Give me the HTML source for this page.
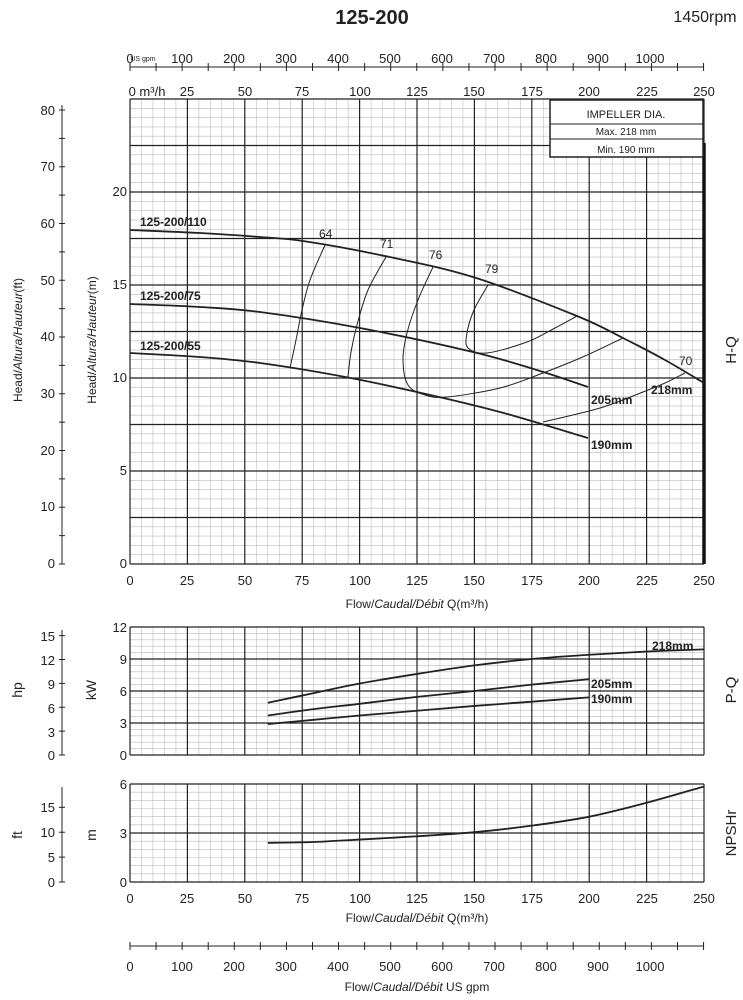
<!DOCTYPE html>
<html><head><meta charset="utf-8"><style>
body{margin:0;background:#fff}
svg{display:block;font-family:"Liberation Sans",sans-serif}
text{fill:#222}
</style></head><body>
<svg id="s" width="743" height="1000" viewBox="0 0 743 1000" xmlns="http://www.w3.org/2000/svg">
<g id="grid"></g>
<g id="curves" fill="none" stroke="#222"></g>
<!-- title -->
<text x="372" y="24" font-size="20" font-weight="bold" text-anchor="middle">125-200</text>
<text x="705" y="22" font-size="16" text-anchor="middle">1450rpm</text>
<!-- top labels -->
<g font-size="13" text-anchor="middle">
<text x="130" y="63">0</text><text x="143" y="61" font-size="7">US gpm</text>
<text x="182" y="63">100</text><text x="234" y="63">200</text><text x="286" y="63">300</text><text x="338" y="63">400</text><text x="390" y="63">500</text><text x="442" y="63">600</text><text x="494" y="63">700</text><text x="546" y="63">800</text><text x="598" y="63">900</text><text x="650" y="63">1000</text>
<text x="147" y="96">0 m³/h</text><text x="187" y="96">25</text><text x="245" y="96">50</text><text x="302" y="96">75</text><text x="360" y="96">100</text><text x="417" y="96">125</text><text x="474" y="96">150</text><text x="532" y="96">175</text><text x="589" y="96">200</text><text x="647" y="96">225</text><text x="704" y="96">250</text>
</g>
<!-- impeller box -->
<rect x="550" y="100" width="153" height="57" fill="#fff" stroke="#222" stroke-width="1.5"/>
<line x1="550" y1="124" x2="703" y2="124" stroke="#222"/><line x1="550" y1="139" x2="703" y2="139" stroke="#222"/>
<text x="626" y="118" font-size="11" text-anchor="middle">IMPELLER DIA.</text>
<text x="626" y="135" font-size="10" text-anchor="middle">Max.  218  mm</text>
<text x="626" y="153" font-size="10" text-anchor="middle">Min.   190  mm</text>
<!-- H chart left labels -->
<g font-size="13" text-anchor="end">
<text x="55" y="115">80</text><text x="55" y="171">70</text><text x="55" y="228">60</text><text x="55" y="285">50</text><text x="55" y="341">40</text><text x="55" y="398">30</text><text x="55" y="455">20</text><text x="55" y="511">10</text><text x="55" y="568">0</text>
<text x="127" y="196">20</text><text x="127" y="289">15</text><text x="127" y="382">10</text><text x="127" y="475">5</text><text x="127" y="568">0</text>
<text x="55" y="641">15</text><text x="55" y="665">12</text><text x="55" y="689">9</text><text x="55" y="713">6</text><text x="55" y="737">3</text><text x="55" y="760">0</text>
<text x="127" y="632">12</text><text x="127" y="664">9</text><text x="127" y="696">6</text><text x="127" y="728">3</text><text x="127" y="760">0</text>
<text x="55" y="812">15</text><text x="55" y="837">10</text><text x="55" y="862">5</text><text x="55" y="887">0</text>
<text x="127" y="789">6</text><text x="127" y="838">3</text><text x="127" y="887">0</text>
</g>
<g font-size="12" text-anchor="middle">
<text transform="translate(22,340) rotate(-90)">Head/<tspan font-style="italic">Altura/Hauteur</tspan>(ft)</text>
<text transform="translate(96,340) rotate(-90)">Head/<tspan font-style="italic">Altura/Hauteur</tspan>(m)</text>
<text transform="translate(22,690) rotate(-90)" font-size="14">hp</text>
<text transform="translate(96,690) rotate(-90)" font-size="14">kW</text>
<text transform="translate(22,835) rotate(-90)" font-size="14">ft</text>
<text transform="translate(96,835) rotate(-90)" font-size="14">m</text>
<text transform="translate(736,350) rotate(-90)" font-size="15">H-Q</text>
<text transform="translate(736,690) rotate(-90)" font-size="15">P-Q</text>
<text transform="translate(736,833) rotate(-90)" font-size="15">NPSHr</text>
</g>
<!-- bottom labels -->
<g font-size="13" text-anchor="middle">
<g id="xl1"><text x="130" y="585">0</text><text x="187" y="585">25</text><text x="245" y="585">50</text><text x="302" y="585">75</text><text x="360" y="585">100</text><text x="417" y="585">125</text><text x="474" y="585">150</text><text x="532" y="585">175</text><text x="589" y="585">200</text><text x="647" y="585">225</text><text x="704" y="585">250</text></g>
<text x="130" y="903">0</text><text x="187" y="903">25</text><text x="245" y="903">50</text><text x="302" y="903">75</text><text x="360" y="903">100</text><text x="417" y="903">125</text><text x="474" y="903">150</text><text x="532" y="903">175</text><text x="589" y="903">200</text><text x="647" y="903">225</text><text x="704" y="903">250</text>
<text x="130" y="971">0</text><text x="182" y="971">100</text><text x="234" y="971">200</text><text x="286" y="971">300</text><text x="338" y="971">400</text><text x="390" y="971">500</text><text x="442" y="971">600</text><text x="494" y="971">700</text><text x="546" y="971">800</text><text x="598" y="971">900</text><text x="650" y="971">1000</text>
<text x="417" y="608" font-size="12">Flow/<tspan font-style="italic">Caudal/Débit</tspan> Q(m³/h)</text>
<text x="417" y="922" font-size="12">Flow/<tspan font-style="italic">Caudal/Débit</tspan> Q(m³/h)</text>
<text x="417" y="991" font-size="12">Flow/<tspan font-style="italic">Caudal/Débit</tspan>  US gpm</text>
</g>
<!-- curve labels -->
<g font-size="12" font-weight="bold">
<text x="140" y="226">125-200/110</text><text x="140" y="300">125-200/75</text><text x="140" y="350">125-200/55</text>
<text x="591" y="404">205mm</text><text x="651" y="394">218mm</text><text x="591" y="449">190mm</text>
<text x="652" y="650">218mm</text><text x="591" y="688">205mm</text><text x="591" y="703">190mm</text>
</g>
<g font-size="12">
<text x="319" y="238">64</text><text x="380" y="248">71</text><text x="429" y="259">76</text><text x="485" y="273">79</text><text x="679" y="365">70</text>
</g>
</svg>
<script>
const NS="http://www.w3.org/2000/svg",g=document.getElementById('grid'),c=document.getElementById('curves');
function L(p,x1,y1,x2,y2,col,w){const e=document.createElementNS(NS,'line');e.setAttribute('x1',x1);e.setAttribute('y1',y1);e.setAttribute('x2',x2);e.setAttribute('y2',y2);e.setAttribute('stroke',col);e.setAttribute('stroke-width',w);p.appendChild(e);}
const X=q=>130+q*574/250;
function grid(top,bot,nMinorRows,majorEvery){
 for(let i=0;i<=50;i++){if(i%5)L(g,X(i*5),top,X(i*5),bot,'#bbb',0.6);}
 const h=(bot-top)/nMinorRows;
 for(let j=0;j<=nMinorRows;j++){if(j%majorEvery)L(g,130,bot-j*h,704,bot-j*h,'#bbb',0.6);}
 for(let j=0;j<=nMinorRows;j+=majorEvery)L(g,130,bot-j*h,704,bot-j*h,'#222',1.2);
 for(let i=0;i<=10;i++)L(g,X(i*25),top,X(i*25),bot,'#222',1.2);
}
grid(99,564,50,5);      // 0..25 m, 0.5 m minor, 2.5 major
grid(627,755,20,5);     // 0..12 kW
grid(784,882,12,6);     // 0..6 m
L(g,704,143,704,564,'#111',3.5);
// left axes
function axis(x,y1,y2,ticks){L(g,x,y1,x,y2,'#222',1);ticks.forEach(t=>L(g,x-3,t,x+3,t,'#222',1));}
let ft=[];for(let f=0;f<=80;f+=5)ft.push(564-f*5.675);axis(62,105,564,ft);
let hp=[];for(let h=0;h<=15;h+=3)hp.push(755-h*0.746*10.667);axis(62,630,755,hp);
let nf=[];for(let f=0;f<=15;f+=5)nf.push(882-f*0.3048*16.33);axis(62,787,882,nf);
// gpm axes
[67,946].forEach(y=>{L(g,130,y,704,y,'#222',1);for(let k=0;k<=1100;k+=50){const x=X(k*0.2271);L(g,x,y-4,x,y+4,'#222',1);}});
function P(d,w){const e=document.createElementNS(NS,'path');e.setAttribute('d',d);e.setAttribute('stroke-width',w);c.appendChild(e);}
function pts(arr,fx,fy){return arr.map(p=>[fx(p[0]),fy(p[1])]);}
function smooth(a){let d='M'+a[0][0]+','+a[0][1];for(let i=0;i<a.length-1;i++){const p0=a[i-1]||a[i],p1=a[i],p2=a[i+1],p3=a[i+2]||p2;d+=` C${p1[0]+(p2[0]-p0[0])/6},${p1[1]+(p2[1]-p0[1])/6} ${p2[0]-(p3[0]-p1[0])/6},${p2[1]-(p3[1]-p1[1])/6} ${p2[0]},${p2[1]}`;}return d;}
// H-Q (pixel coords)
P(smooth([[130,230],[200,233],[260,237],[303,241],[380,255],[473,277],[577,316],[623,338],[665,360],[704,383]]),1.8);
P(smooth([[130,304],[200,307],[260,312],[360,328],[473,352],[540,371],[588,387]]),1.8);
P(smooth([[130,353],[200,357],[260,363],[340,376],[417,392],[500,412],[588,438]]),1.8);
// efficiency
P(smooth([[325,245],[310,280],[302,310],[296,340],[290,368]]),1);
P(smooth([[386,257],[368,290],[357,325],[351,352],[348,377]]),1);
P(smooth([[433,267],[418,300],[407,333],[403,360],[408,385],[425,395],[447,397],[500,388],[543,373],[585,356],[623,338]]),1);
P(smooth([[488,285],[474,310],[467,333],[468,348],[487,353],[527,342],[555,328],[577,316]]),1);
P(smooth([[685,373],[665,383],[643,392],[600,408],[543,422]]),1);
// power
const Xq=q=>X(q),Yk=k=>755-k*10.667;
P(smooth(pts([[60,4.9],[80,5.8],[100,6.7],[125,7.6],[150,8.4],[175,9.0],[200,9.4],[225,9.7],[250,9.9]],Xq,Yk)),1.8);
P(smooth(pts([[60,3.7],[80,4.3],[100,4.8],[125,5.45],[150,6.0],[175,6.6],[200,7.1]],Xq,Yk)),1.8);
P(smooth(pts([[60,2.9],[80,3.3],[100,3.7],[125,4.15],[150,4.6],[175,5.0],[200,5.4]],Xq,Yk)),1.8);
// NPSH
const Yn=m=>882-m*16.33;
P(smooth(pts([[60,2.4],[80,2.45],[100,2.6],[125,2.8],[150,3.05],[175,3.45],[200,4.0],[225,4.85],[250,5.85]],Xq,Yn)),1.8);
</script>
</body></html>
